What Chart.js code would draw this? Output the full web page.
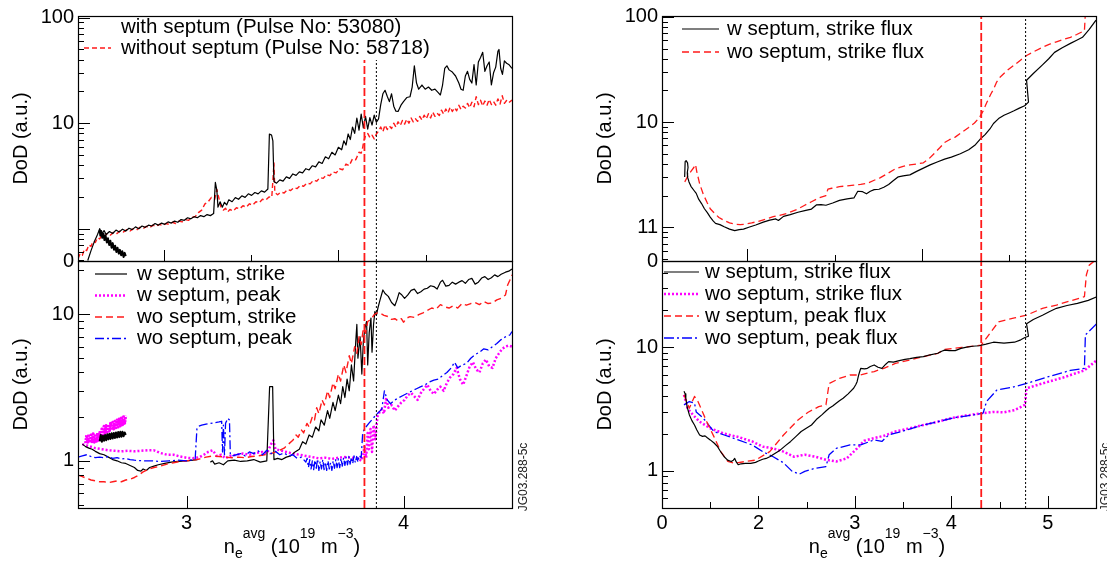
<!DOCTYPE html>
<html><head><meta charset="utf-8">
<script src="https://cdn.jsdelivr.net/npm/chart.js@4.4.0/dist/chart.umd.min.js"></script>
<style>
html,body{margin:0;padding:0;background:#fff;}
#wrap{position:relative;width:1107px;height:563px;overflow:hidden;background:#fff;}
#wrap canvas{position:absolute;left:0;top:0;}
</style></head><body>
<div id="wrap">
<canvas id="cTL" width="1107" height="563"></canvas>
<canvas id="cBL" width="1107" height="563"></canvas>
<canvas id="cTR" width="1107" height="563"></canvas>
<canvas id="cBR" width="1107" height="563"></canvas>
</div>
<script>
// ---------------- DATA ----------------
// Left column (x = n_e^avg, 10^19 m^-3)
const tlWith = [[2.545,0.5],[2.56,0.62],[2.575,0.75],[2.59,0.88],[2.6,1.0],[2.61,0.9],[2.62,0.96],[2.63,0.88],[2.645,0.94],[2.66,0.9],[2.675,0.97],[2.69,0.93],[2.705,0.99],[2.72,0.95],[2.735,1.01],[2.75,0.98],[2.765,1.04],[2.78,1.0],[2.795,1.06],[2.81,1.03],[2.825,1.08],[2.84,1.06],[2.855,1.12],[2.87,1.08],[2.885,1.13],[2.9,1.1],[2.915,1.16],[2.93,1.13],[2.945,1.18],[2.96,1.15],[2.975,1.22],[2.99,1.2],[3.005,1.27],[3.02,1.24],[3.035,1.3],[3.05,1.27],[3.065,1.33],[3.08,1.3],[3.095,1.36],[3.11,1.33],[3.125,1.39],[3.133,2.75],[3.14,2.3],[3.145,1.6],[3.155,1.8],[3.165,1.6],[3.175,1.78],[3.185,1.68],[3.195,1.88],[3.21,1.8],[3.225,1.97],[3.24,1.9],[3.255,2.05],[3.27,1.98],[3.285,2.14],[3.3,2.07],[3.315,2.2],[3.33,2.14],[3.345,2.28],[3.36,2.22],[3.375,2.38],[3.382,7.9],[3.392,7.7],[3.398,6.8],[3.403,2.8],[3.415,2.7],[3.43,2.9],[3.445,2.82],[3.46,3.1],[3.475,3.0],[3.49,3.3],[3.505,3.2],[3.52,3.45],[3.535,3.38],[3.55,3.7],[3.565,3.6],[3.58,3.95],[3.595,3.85],[3.61,4.3],[3.625,4.15],[3.64,4.8],[3.655,4.6],[3.67,5.3],[3.685,5.0],[3.7,5.9],[3.715,5.6],[3.725,6.8],[3.735,6.2],[3.745,7.9],[3.755,7.0],[3.765,9.2],[3.775,8.0],[3.785,11.2],[3.795,8.6],[3.805,12.2],[3.815,9.0],[3.825,11.6],[3.835,8.8],[3.845,11.3],[3.855,9.6],[3.865,11.9],[3.875,10.2],[3.885,11.0],[3.895,15.0],[3.905,19.0],[3.915,20.5],[3.925,18.0],[3.935,16.0],[3.945,19.0],[3.955,14.5],[3.965,13.0],[3.975,12.9],[3.99,15.0],[4.0,16.0],[4.015,17.5],[4.03,17.8],[4.04,22.0],[4.05,35.0],[4.06,24.0],[4.07,21.0],[4.085,23.0],[4.1,21.0],[4.115,22.0],[4.13,20.5],[4.145,21.0],[4.16,19.5],[4.17,18.5],[4.18,23.0],[4.19,33.0],[4.2,35.0],[4.21,32.0],[4.225,30.5],[4.24,28.0],[4.255,24.0],[4.265,21.0],[4.275,20.5],[4.285,28.0],[4.295,31.0],[4.305,26.0],[4.315,24.0],[4.325,36.0],[4.335,23.0],[4.345,38.0],[4.355,42.0],[4.365,47.0],[4.375,31.0],[4.385,35.0],[4.395,38.0],[4.405,23.0],[4.415,30.0],[4.425,34.0],[4.435,48.0],[4.44,50.0],[4.448,33.0],[4.456,29.0],[4.465,39.0],[4.475,37.0],[4.485,36.0],[4.5,33.0]];
const tlWithBlob = [[2.6,0.97],[2.603,0.86],[2.607,0.95],[2.612,0.82],[2.617,0.9],[2.622,0.78],[2.627,0.86],[2.633,0.74],[2.638,0.81],[2.644,0.7],[2.649,0.77],[2.655,0.66],[2.66,0.73],[2.666,0.63],[2.671,0.69],[2.677,0.6],[2.682,0.66],[2.688,0.58],[2.693,0.63],[2.699,0.56],[2.704,0.61],[2.71,0.54],[2.715,0.59],[2.72,0.55]];
const tlWithout = [[2.5,0.52],[2.51,0.58],[2.52,0.56],[2.53,0.64],[2.54,0.62],[2.55,0.7],[2.56,0.68],[2.57,0.76],[2.58,0.74],[2.59,0.82],[2.6,0.8],[2.61,0.87],[2.62,0.84],[2.635,0.9],[2.65,0.87],[2.665,0.93],[2.68,0.9],[2.695,0.96],[2.71,0.93],[2.725,0.98],[2.74,0.95],[2.755,1.0],[2.77,0.97],[2.785,1.03],[2.8,1.0],[2.815,1.05],[2.83,1.02],[2.845,1.08],[2.86,1.05],[2.875,1.1],[2.89,1.07],[2.905,1.12],[2.92,1.1],[2.935,1.15],[2.95,1.12],[2.965,1.18],[2.98,1.16],[2.995,1.22],[3.01,1.2],[3.025,1.28],[3.04,1.3],[3.055,1.42],[3.07,1.5],[3.085,1.72],[3.1,1.8],[3.115,1.98],[3.13,1.9],[3.14,2.35],[3.148,2.0],[3.158,1.62],[3.17,1.5],[3.18,1.56],[3.19,1.44],[3.2,1.52],[3.215,1.47],[3.23,1.58],[3.245,1.54],[3.26,1.65],[3.275,1.6],[3.29,1.72],[3.305,1.67],[3.32,1.8],[3.335,1.76],[3.35,1.9],[3.365,1.86],[3.38,2.0],[3.393,1.98],[3.4,3.3],[3.403,4.2],[3.407,2.2],[3.42,2.1],[3.435,2.22],[3.45,2.18],[3.465,2.35],[3.48,2.3],[3.495,2.45],[3.51,2.4],[3.525,2.58],[3.54,2.52],[3.555,2.7],[3.57,2.66],[3.585,2.88],[3.6,2.82],[3.615,3.05],[3.63,3.0],[3.645,3.25],[3.66,3.18],[3.675,3.45],[3.69,3.38],[3.705,3.7],[3.72,3.62],[3.735,4.1],[3.75,3.95],[3.765,4.6],[3.78,4.5],[3.795,5.3],[3.805,5.2],[3.812,5.9],[3.817,6.8],[3.825,7.6],[3.835,8.0],[3.845,7.3],[3.855,7.7],[3.865,7.1],[3.875,7.9],[3.885,8.4],[3.895,9.2],[3.905,8.3],[3.915,9.6],[3.925,8.7],[3.935,9.4],[3.945,8.9],[3.955,10.0],[3.965,9.2],[3.975,10.3],[3.985,9.5],[3.995,10.6],[4.005,9.8],[4.015,10.9],[4.025,10.0],[4.035,11.2],[4.045,10.3],[4.055,11.0],[4.065,10.4],[4.075,11.6],[4.085,10.7],[4.095,11.9],[4.105,11.0],[4.115,12.3],[4.125,11.2],[4.135,12.7],[4.145,11.6],[4.155,12.4],[4.165,11.8],[4.175,13.3],[4.185,12.2],[4.195,13.6],[4.205,12.5],[4.215,14.2],[4.225,12.9],[4.235,14.0],[4.245,13.1],[4.255,14.8],[4.265,13.5],[4.275,14.5],[4.285,13.9],[4.295,15.4],[4.305,14.0],[4.315,15.8],[4.325,14.3],[4.335,17.8],[4.345,15.0],[4.355,16.5],[4.365,14.6],[4.375,16.2],[4.385,14.8],[4.395,16.8],[4.405,15.0],[4.415,16.0],[4.425,14.8],[4.435,17.0],[4.445,15.2],[4.455,18.2],[4.465,15.4],[4.475,16.4],[4.485,15.6],[4.5,16.6]];

const blWStrike = [[2.52,1.3],[2.535,1.25],[2.55,1.22],[2.565,1.2],[2.58,1.16],[2.6,1.12],[2.62,1.1],[2.64,1.06],[2.66,1.02],[2.68,1.0],[2.7,0.97],[2.72,0.96],[2.74,0.93],[2.76,0.9],[2.775,0.86],[2.79,0.85],[2.8,0.88],[2.815,0.86],[2.83,0.9],[2.85,0.92],[2.87,0.94],[2.9,0.96],[2.93,0.98],[2.96,0.99],[3.0,1.0],[3.03,1.01],[3.05,1.02],null,[3.11,0.98],[3.12,1.0],[3.13,0.95],[3.15,0.97],[3.17,0.94],[3.19,1.0],[3.22,1.01],[3.25,0.99],[3.28,1.0],[3.31,1.02],[3.34,0.98],[3.37,1.0],[3.383,3.2],[3.397,3.2],[3.403,1.02],[3.42,1.04],[3.44,1.02],[3.46,1.06],[3.48,1.08],[3.5,1.15],[3.52,1.2],[3.535,1.35],[3.55,1.3],[3.565,1.5],[3.58,1.45],[3.595,1.7],[3.61,1.6],[3.62,1.9],[3.635,1.75],[3.65,2.2],[3.66,1.95],[3.675,2.5],[3.685,2.2],[3.7,2.8],[3.71,2.45],[3.72,3.2],[3.73,2.7],[3.74,3.6],[3.75,3.0],[3.76,4.5],[3.77,3.5],[3.78,6.5],[3.785,8.5],[3.79,5.0],[3.8,7.0],[3.808,3.9],[3.815,6.5],[3.822,8.0],[3.83,8.9],[3.835,4.5],[3.842,7.5],[3.85,9.4],[3.855,5.5],[3.862,8.5],[3.868,10.4],[3.875,9.8],[3.882,11.0],[3.892,12.5],[3.905,14.6],[3.915,13.8],[3.93,13.2],[3.945,12.0],[3.96,11.4],[3.97,12.5],[3.98,14.0],[3.99,13.6],[4.005,12.8],[4.02,13.5],[4.035,14.5],[4.05,14.8],[4.065,13.8],[4.08,14.2],[4.095,14.8],[4.11,15.0],[4.125,15.6],[4.14,15.4],[4.155,14.8],[4.17,16.5],[4.18,17.0],[4.195,15.5],[4.21,15.7],[4.225,16.5],[4.24,16.0],[4.255,16.5],[4.27,16.9],[4.285,16.2],[4.3,17.2],[4.315,17.5],[4.33,16.0],[4.345,16.5],[4.36,17.6],[4.375,18.0],[4.39,17.2],[4.405,17.7],[4.42,18.5],[4.435,18.0],[4.45,18.7],[4.47,19.3],[4.485,19.6],[4.5,20.3]];
const blWStrikeBlob = [[2.6,1.36],[2.605,1.5],[2.61,1.35],[2.615,1.48],[2.62,1.37],[2.625,1.5],[2.63,1.38],[2.635,1.52],[2.64,1.4],[2.645,1.53],[2.65,1.41],[2.655,1.54],[2.66,1.42],[2.665,1.55],[2.67,1.43],[2.675,1.56],[2.68,1.44],[2.685,1.57],[2.69,1.45],[2.695,1.58],[2.7,1.46],[2.705,1.58],[2.71,1.47],[2.715,1.56],[2.72,1.5]];
const blWPeak = [[2.52,1.3],[2.55,1.26],[2.58,1.22],[2.61,1.2],[2.64,1.18],[2.67,1.17],[2.7,1.16],[2.73,1.17],[2.76,1.16],[2.79,1.17],[2.82,1.18],[2.85,1.18],[2.88,1.13],[2.91,1.1],[2.94,1.1],[2.97,1.07],[3.0,1.05],[3.03,1.04],[3.06,1.06],[3.08,1.1],[3.1,1.15],[3.12,1.18],[3.14,1.08],[3.16,1.1],[3.18,1.04],[3.2,1.08],[3.23,1.1],[3.26,1.12],[3.29,1.1],[3.32,1.13],[3.35,1.15],[3.37,1.12],[3.39,1.3],[3.4,1.38],[3.41,1.2],[3.43,1.18],[3.46,1.15],[3.49,1.12],[3.52,1.1],[3.55,1.08],[3.58,1.06],[3.61,1.04],[3.64,1.05],[3.67,1.03],[3.7,1.05],[3.73,1.06],[3.76,1.05],[3.79,1.04],[3.805,1.0],[3.815,1.1],[3.82,1.25],[3.828,1.05],[3.835,1.55],[3.84,1.2],[3.848,1.65],[3.855,1.15],[3.862,1.75],[3.87,1.4],[3.88,2.0],[3.89,2.15],[3.9,2.25],[3.91,2.1],[3.92,2.7],[3.93,2.3],[3.945,2.4],[3.96,2.2],[3.975,2.35],[3.99,2.5],[4.005,2.6],[4.02,2.8],[4.035,2.9],[4.05,2.75],[4.065,2.6],[4.08,2.9],[4.095,3.1],[4.11,3.3],[4.125,3.0],[4.14,2.85],[4.155,3.05],[4.17,3.2],[4.185,3.0],[4.2,3.4],[4.215,3.7],[4.23,3.9],[4.245,4.3],[4.26,3.6],[4.275,3.3],[4.29,3.8],[4.305,4.4],[4.32,4.7],[4.335,4.2],[4.35,4.0],[4.365,4.6],[4.38,4.9],[4.395,4.4],[4.41,4.3],[4.425,5.0],[4.44,5.4],[4.455,5.8],[4.47,6.0],[4.485,6.1],[4.5,6.0]];
const blWPeakBlob = [[2.535,1.32],[2.54,1.5],[2.545,1.34],[2.55,1.52],[2.555,1.33],[2.56,1.5],[2.565,1.35],[2.57,1.53],[2.575,1.34],[2.58,1.52],[2.585,1.36],[2.59,1.55],[2.595,1.38],[2.6,1.56],[2.605,1.42],[2.61,1.65],[2.615,1.5],[2.62,1.72],[2.625,1.55],[2.63,1.74],[2.635,1.57],[2.64,1.77],[2.645,1.6],[2.65,1.8],[2.655,1.62],[2.66,1.83],[2.665,1.65],[2.67,1.86],[2.675,1.68],[2.68,1.9],[2.685,1.7],[2.69,1.93],[2.695,1.73],[2.7,1.96],[2.705,1.76],[2.71,2.0],[2.715,1.8],[2.72,2.03]];
const blWoStrike = [[2.5,0.8],[2.52,0.78],[2.54,0.76],[2.56,0.74],[2.58,0.73],[2.6,0.72],[2.62,0.72],[2.64,0.71],[2.66,0.72],[2.68,0.73],[2.7,0.72],[2.72,0.74],[2.74,0.75],[2.76,0.77],[2.78,0.8],[2.8,0.84],[2.82,0.87],[2.85,0.9],[2.88,0.92],[2.91,0.95],[2.94,0.97],[2.97,0.99],[3.0,1.0],[3.03,1.01],[3.06,1.03],[3.09,1.06],[3.12,1.08],[3.15,1.07],[3.18,1.06],[3.21,1.05],[3.24,1.06],[3.27,1.05],[3.3,1.07],[3.33,1.08],[3.36,1.1],[3.39,1.12],[3.41,1.15],[3.43,1.18],[3.45,1.22],[3.47,1.3],[3.49,1.38],[3.505,1.5],[3.515,1.45],[3.53,1.62],[3.54,1.55],[3.555,1.8],[3.565,1.7],[3.58,2.0],[3.59,1.9],[3.6,2.3],[3.61,2.1],[3.625,2.6],[3.635,2.4],[3.65,3.0],[3.66,2.7],[3.675,3.4],[3.685,3.1],[3.7,3.9],[3.71,3.5],[3.725,4.5],[3.735,4.0],[3.75,5.2],[3.76,4.6],[3.775,6.0],[3.785,5.4],[3.795,7.0],[3.805,6.2],[3.815,8.0],[3.825,7.4],[3.835,8.9],[3.85,9.2],[3.865,9.9],[3.88,10.2],[3.895,10.1],[3.91,9.8],[3.93,9.6],[3.945,9.2],[3.96,9.3],[3.975,9.0],[3.99,9.3],[4.0,8.8],[4.015,9.4],[4.03,9.6],[4.05,9.5],[4.07,9.9],[4.09,10.2],[4.11,10.6],[4.13,11.0],[4.15,10.8],[4.17,11.6],[4.19,11.2],[4.21,11.0],[4.23,11.4],[4.25,11.0],[4.27,11.8],[4.29,11.5],[4.31,11.8],[4.33,12.0],[4.35,11.6],[4.37,12.2],[4.39,11.8],[4.41,11.9],[4.43,12.5],[4.45,12.8],[4.47,13.5],[4.48,15.8],[4.49,17.0],[4.5,18.5]];
const blWoPeak = [[2.5,1.06],[2.52,1.08],[2.54,1.1],[2.56,1.07],[2.58,1.05],[2.6,1.06],[2.62,1.05],[2.64,1.07],[2.66,1.04],[2.68,1.05],[2.7,1.03],[2.72,1.04],[2.74,1.02],[2.76,1.01],[2.8,1.0],[2.84,1.0],[2.88,0.99],[2.92,1.0],[2.96,1.01],[3.0,1.0],[3.03,1.02],[3.04,1.03],[3.048,1.65],[3.055,1.72],[3.07,1.75],[3.09,1.78],[3.11,1.8],[3.13,1.82],[3.15,1.84],[3.162,1.86],[3.166,1.15],[3.17,1.75],[3.175,1.1],[3.18,1.8],[3.19,1.95],[3.198,1.9],[3.202,1.1],[3.21,1.08],[3.23,1.1],[3.25,1.12],[3.27,1.08],[3.29,1.15],[3.31,1.12],[3.33,1.17],[3.35,1.1],[3.37,1.18],[3.39,1.12],[3.41,1.16],[3.43,1.1],[3.45,1.13],[3.47,1.08],[3.49,1.1],[3.51,1.04],[3.53,1.06],[3.55,0.98],[3.556,1.04],[3.562,0.9],[3.568,1.02],[3.574,0.88],[3.58,1.0],[3.586,0.87],[3.592,1.01],[3.598,0.89],[3.604,1.03],[3.61,0.86],[3.616,0.99],[3.622,0.88],[3.628,1.02],[3.634,0.87],[3.64,0.98],[3.646,0.86],[3.652,1.0],[3.658,0.88],[3.664,0.97],[3.67,0.86],[3.676,1.0],[3.682,0.89],[3.688,1.02],[3.694,0.9],[3.7,1.03],[3.706,0.9],[3.712,1.04],[3.718,0.92],[3.724,1.05],[3.73,0.93],[3.736,1.06],[3.742,0.94],[3.748,1.07],[3.754,0.95],[3.76,1.06],[3.766,0.96],[3.772,1.08],[3.778,0.97],[3.784,1.07],[3.79,0.98],[3.796,1.09],[3.805,1.05],[3.812,1.55],[3.82,1.65],[3.84,1.8],[3.86,1.95],[3.88,2.1],[3.9,2.25],[3.912,3.0],[3.925,2.6],[3.94,2.45],[3.96,2.6],[3.98,2.7],[4.0,2.8],[4.02,2.9],[4.04,3.0],[4.06,3.1],[4.08,3.2],[4.1,3.3],[4.12,3.45],[4.14,3.55],[4.16,3.6],[4.18,3.8],[4.2,4.0],[4.22,4.3],[4.235,4.7],[4.25,4.3],[4.27,4.5],[4.29,4.6],[4.31,5.0],[4.33,5.3],[4.35,5.5],[4.37,5.8],[4.39,5.7],[4.41,6.0],[4.43,6.3],[4.45,6.7],[4.47,7.0],[4.49,7.2],[4.5,7.6]];

// Right column
const trWStrike = [[1.235,3.0],[1.24,4.2],[1.25,4.3],[1.265,4.1],[1.27,3.7],[1.262,3.3],[1.265,3.0],[1.28,2.7],[1.3,2.45],[1.33,2.25],[1.355,2.1],[1.38,1.85],[1.41,1.68],[1.44,1.5],[1.47,1.38],[1.5,1.25],[1.53,1.15],[1.555,1.09],[1.6,1.06],[1.645,1.01],[1.7,0.96],[1.754,0.93],[1.8,0.95],[1.845,0.96],[1.9,1.0],[1.972,1.05],[2.05,1.12],[2.117,1.17],[2.18,1.2],[2.207,1.16],[2.26,1.27],[2.33,1.32],[2.41,1.39],[2.48,1.44],[2.55,1.49],[2.6,1.63],[2.65,1.64],[2.7,1.62],[2.77,1.7],[2.84,1.8],[2.92,1.86],[2.99,1.9],[3.03,2.2],[3.08,2.18],[3.12,2.08],[3.16,2.2],[3.2,2.28],[3.25,2.3],[3.3,2.4],[3.35,2.55],[3.4,2.78],[3.45,3.02],[3.5,3.08],[3.57,3.15],[3.64,3.4],[3.71,3.65],[3.78,3.92],[3.86,4.2],[3.93,4.45],[4.0,4.65],[4.093,5.0],[4.18,5.45],[4.25,6.1],[4.3,6.9],[4.35,7.6],[4.4,8.6],[4.437,9.7],[4.49,10.8],[4.546,11.6],[4.6,12.2],[4.65,12.8],[4.7,13.5],[4.76,14.3],[4.8,15.5],[4.78,25.0],[4.85,29.0],[4.945,35.0],[5.01,40.0],[5.07,46.0],[5.15,51.0],[5.235,56.0],[5.3,60.0],[5.36,64.0],[5.43,76.0],[5.5,93.0]];
const trWoStrike = [[1.236,2.7],[1.27,3.1],[1.3,3.4],[1.33,3.7],[1.348,3.95],[1.36,3.4],[1.39,2.6],[1.428,2.06],[1.47,1.7],[1.5,1.5],[1.537,1.38],[1.59,1.24],[1.645,1.16],[1.7,1.1],[1.754,1.07],[1.81,1.06],[1.863,1.07],[1.93,1.1],[2.0,1.14],[2.08,1.2],[2.153,1.26],[2.22,1.3],[2.3,1.36],[2.4,1.48],[2.48,1.62],[2.55,1.75],[2.625,1.9],[2.7,2.0],[2.72,2.3],[2.76,2.35],[2.84,2.43],[2.92,2.48],[2.99,2.52],[3.06,2.56],[3.13,2.62],[3.2,2.8],[3.26,2.95],[3.34,3.25],[3.42,3.6],[3.5,3.8],[3.57,3.92],[3.64,4.0],[3.71,4.1],[3.77,4.5],[3.82,5.0],[3.88,5.7],[3.93,6.4],[3.98,6.8],[4.04,7.2],[4.11,8.0],[4.18,8.9],[4.24,9.8],[4.29,11.0],[4.33,12.8],[4.37,15.5],[4.41,18.5],[4.437,20.5],[4.47,24.0],[4.51,27.0],[4.58,31.0],[4.655,35.0],[4.72,39.0],[4.78,43.0],[4.86,47.0],[4.945,51.5],[5.02,55.0],[5.09,58.0],[5.16,61.0],[5.235,64.0],[5.3,68.0],[5.38,74.0],[5.385,90.0],[5.39,110.0]];

const brWStrike = [[1.228,4.4],[1.24,4.2],[1.247,3.87],[1.26,3.3],[1.283,2.85],[1.31,2.55],[1.337,2.35],[1.36,2.15],[1.39,1.95],[1.42,1.9],[1.446,1.92],[1.47,1.85],[1.5,1.78],[1.54,1.68],[1.573,1.58],[1.61,1.42],[1.645,1.3],[1.68,1.22],[1.718,1.19],[1.74,1.22],[1.754,1.26],[1.77,1.18],[1.79,1.12],[1.82,1.14],[1.863,1.15],[1.92,1.15],[1.97,1.17],[2.0,1.2],[2.044,1.24],[2.08,1.26],[2.117,1.3],[2.17,1.38],[2.225,1.47],[2.28,1.6],[2.334,1.73],[2.39,1.9],[2.443,2.08],[2.5,2.22],[2.55,2.35],[2.6,2.6],[2.66,2.85],[2.7,3.05],[2.733,3.21],[2.77,3.35],[2.806,3.53],[2.84,3.7],[2.878,3.87],[2.93,4.2],[2.987,4.66],[3.01,5.0],[3.023,5.27],[3.04,6.0],[3.06,6.76],[3.1,6.7],[3.13,6.76],[3.16,7.0],[3.2,7.2],[3.24,6.9],[3.28,6.76],[3.32,7.3],[3.35,7.66],[3.4,7.6],[3.46,7.8],[3.52,8.0],[3.57,8.1],[3.64,8.3],[3.71,8.4],[3.78,8.7],[3.86,8.95],[3.9,9.3],[3.93,9.5],[3.98,9.4],[4.04,9.4],[4.1,9.8],[4.147,10.0],[4.22,10.2],[4.29,10.3],[4.36,10.6],[4.437,11.0],[4.49,10.9],[4.546,10.8],[4.6,10.9],[4.655,11.0],[4.72,11.5],[4.763,12.0],[4.8,12.3],[4.78,15.5],[4.85,16.8],[4.945,18.2],[5.02,19.5],[5.09,20.7],[5.2,21.8],[5.307,22.7],[5.42,24.0],[5.51,25.7]];
const brWoStrike = [[1.228,4.12],[1.265,3.21],[1.319,2.85],[1.39,2.5],[1.5,2.21],[1.645,2.0],[1.79,1.88],[1.935,1.73],[2.044,1.57],[2.153,1.52],[2.26,1.43],[2.37,1.3],[2.48,1.35],[2.59,1.3],[2.7,1.23],[2.806,1.19],[2.915,1.26],[3.023,1.52],[3.096,1.75],[3.2,1.84],[3.31,1.93],[3.42,2.08],[3.57,2.21],[3.71,2.35],[3.86,2.5],[4.0,2.67],[4.147,2.8],[4.33,2.93],[4.437,3.0],[4.546,2.98],[4.655,3.1],[4.763,3.42],[4.78,4.66],[4.945,5.1],[5.16,5.7],[5.38,6.5],[5.51,7.9]];
const brWPeak = [[1.228,4.12],[1.283,3.21],[1.337,4.0],[1.373,3.64],[1.464,2.5],[1.537,1.9],[1.61,1.43],[1.682,1.19],[1.754,1.15],[1.863,1.19],[1.97,1.22],[2.117,1.43],[2.26,1.95],[2.41,2.58],[2.515,2.98],[2.625,3.31],[2.7,3.42],[2.733,5.1],[2.84,5.6],[2.95,5.97],[3.06,5.97],[3.2,6.37],[3.3,6.76],[3.42,7.4],[3.57,7.9],[3.71,8.4],[3.86,8.95],[3.93,9.6],[4.11,10.0],[4.31,10.4],[4.4,13.0],[4.49,16.1],[4.655,17.3],[4.78,18.2],[4.945,20.7],[5.09,22.0],[5.38,25.7],[5.4,38.5],[5.43,46.3],[5.51,52.0]];
const brWoPeak = [[1.228,3.42],[1.283,3.64],[1.337,3.53],[1.355,3.0],[1.428,2.67],[1.537,2.08],[1.645,1.95],[1.79,1.78],[1.935,1.62],[2.044,1.43],[2.153,1.3],[2.26,1.16],[2.35,0.99],[2.425,0.94],[2.48,0.99],[2.59,1.05],[2.7,1.08],[2.733,1.35],[2.806,1.52],[2.95,1.62],[3.06,1.62],[3.2,1.78],[3.28,1.73],[3.35,1.95],[3.5,2.1],[3.68,2.32],[3.86,2.5],[4.04,2.7],[4.22,2.83],[4.33,2.93],[4.365,3.64],[4.47,4.5],[4.655,4.8],[4.78,5.1],[5.01,5.8],[5.235,6.5],[5.38,6.76],[5.39,12.6],[5.51,15.6]];

// Vertical reference densities
const leftRefLines = [3.82, 3.875];   // [red dashed, black dotted]
const rightRefLines = [4.31, 4.77];

// Axis ranges
const leftXRange = [2.5, 4.5];
const rightXRange = [1, 5.5];
const tlYRange = [0.494, 103.7];
const blYRange = [0.477, 23];
const trYRange = [0.478, 102];
const brYRange = [0.5, 50];

// Tick labels
const tlYTicks = [0.494, 1, 10, 100];  const tlYLabels = ['0', '', '10', '100'];
const trYTicks = [0.478, 1, 10, 100];  const trYLabels = ['0', '11', '10', '100'];
const blYTicks = [1, 10];              const blYLabels = ['1', '10'];
const brYTicks = [1, 10];              const brYLabels = ['1', '10'];
const blXTicks = [3, 4];               const blXLabels = ['3', '4'];
const brXTicks = [1, 2, 3, 4, 5];      const brXLabels = ['0', '2', '3', '4', '5'];
const tlXMarks = [[2.896, 1], [3.297, 0], [3.698, 1], [4.104, 0]];
const trXMarks = [[1.881, 1], [2.794, 0], [3.696, 1], [4.598, 0]];
const blXMarks = [[3, 1], [4, 1]];
const brXMarks = [[1.5, 0], [2, 1], [2.5, 0], [3, 1], [3.5, 0], [4, 1], [4.5, 0], [5, 1]];

// ---------------- RENDERING ----------------
const FONT = '"Liberation Sans", Arial, Helvetica, sans-serif';
const RED = '#ff1a1a', MAG = '#ff00ff', BLUE = '#0000ff', BLK = '#000000';

const pts = a => a.map(p => p === null ? {x: null, y: null} : {x: p[0], y: p[1]});
function ds(data, color, width, dash) {
  return {data: pts(data), borderColor: color, backgroundColor: color, borderWidth: width,
    borderDash: dash || [], showLine: true, pointRadius: 0, pointHoverRadius: 0, fill: false,
    tension: 0, clip: 0, borderJoinStyle: 'round', spanGaps: false};
}
function vline(x, yr, color, width, dash) { return ds([[x, yr[0]], [x, yr[1]]], color, width, dash); }

function labelFn(vals, labels) {
  return v => { const i = vals.findIndex(t => Math.abs(t - v) <= 1e-6 * Math.max(1, t)); return i >= 0 ? labels[i] : ''; };
}

function drawXTitle(ctx, cx, base) {
  const parts = [['n', 20, 0], ['e', 14, 5], ['avg', 14, -15], [' (10', 20, 0], ['19', 14, -15], [' m', 20, 0], ['\u22123', 14, -15], [')', 20, 0]];
  let total = 0;
  parts.forEach(p => { ctx.font = p[1] + 'px ' + FONT; p.push(ctx.measureText(p[0]).width); total += p[3]; });
  let x = cx - total / 2;
  ctx.fillStyle = '#000'; ctx.textAlign = 'left'; ctx.textBaseline = 'alphabetic';
  parts.forEach(p => { ctx.font = p[1] + 'px ' + FONT; ctx.fillText(p[0], x, base + p[2]); x += p[3]; });
}

function panelPlugin(o) {
  return {
    id: 'panel' + o.name,
    afterDraw(chart) {
      const ctx = chart.ctx, a = chart.chartArea, xs = chart.scales.x, ys = chart.scales.y;
      ctx.save();
      const L = o.legend;
      if (L.box) { ctx.fillStyle = '#fff'; ctx.fillRect(L.box[0], L.box[1], L.box[2], L.box[3]); }
      ctx.strokeStyle = '#000'; ctx.lineWidth = 1; ctx.setLineDash([]);
      ctx.beginPath();
      const lo = Math.floor(Math.log10(ys.min)), hi = Math.ceil(Math.log10(ys.max));
      for (let e = lo; e <= hi; e++) for (let m = 1; m <= 9; m++) {
        const v = m * Math.pow(10, e);
        if (v <= ys.min * 1.001 || v >= ys.max) continue;
        const y = Math.round(ys.getPixelForValue(v)) + 0.5;
        ctx.moveTo(a.left, y); ctx.lineTo(a.left + (m === 1 ? 12 : 6), y);
      }
      o.xMarks.forEach(([v, major]) => {
        const x = Math.round(xs.getPixelForValue(v)) + 0.5;
        ctx.moveTo(x, a.bottom); ctx.lineTo(x, a.bottom - (major ? o.xMajorLen : 6));
      });
      ctx.stroke();
      ctx.lineWidth = 1.2;
      ctx.strokeRect(a.left + 0.5, a.top + 0.5, a.right - a.left, a.bottom - a.top);
      // legend
      ctx.font = '20.5px ' + FONT; ctx.textBaseline = 'middle'; ctx.textAlign = 'left';
      L.rows.forEach((r, i) => {
        const y = L.y0 + i * L.dy;
        if (r.sample) {
          ctx.beginPath(); ctx.strokeStyle = r.d.borderColor; ctx.lineWidth = r.d.borderWidth;
          ctx.setLineDash(r.d.borderDash); ctx.moveTo(L.sx0, y); ctx.lineTo(L.sx1, y); ctx.stroke();
          ctx.setLineDash([]);
        }
        ctx.fillStyle = '#000'; ctx.fillText(r.text, L.tx, y);
      });
      if (o.xTitle) drawXTitle(ctx, o.xTitle[0], o.xTitle[1]);
      if (o.side) {
        ctx.save(); ctx.translate(o.side[0], o.side[1]); ctx.rotate(-Math.PI / 2);
        ctx.font = '12px ' + FONT; ctx.fillStyle = '#222'; ctx.textAlign = 'center'; ctx.textBaseline = 'middle';
        ctx.fillText('JG03.288-5c', 0, 0); ctx.restore();
      }
      ctx.restore();
    }
  };
}

function build(o) {
  const yScale = {
    type: 'logarithmic', position: 'left', min: o.yr[0], max: o.yr[1],
    grid: {display: false, drawTicks: false}, border: {display: false},
    ticks: {autoSkip: false, padding: 4, color: '#000', font: {family: FONT, size: 20}, callback: labelFn(o.yTicks, o.yLabels)},
    afterBuildTicks: s => { s.ticks = o.yTicks.map(v => ({value: v})); },
    afterFit: s => { s.width = o.yWidth; },
    title: {display: true, text: 'DoD (a.u.)', color: '#000', font: {family: FONT, size: 20}, padding: {top: o.titlePad, bottom: 0}}
  };
  const xScale = {
    type: 'linear', position: 'bottom', min: o.xr[0], max: o.xr[1], display: !!o.xTicks,
    grid: {display: false, drawTicks: false}, border: {display: false},
    ticks: {autoSkip: false, padding: 3, maxRotation: 0, color: '#000', font: {family: FONT, size: 20},
      callback: o.xTicks ? labelFn(o.xTicks, o.xLabels) : () => ''},
    afterBuildTicks: s => { if (o.xTicks) s.ticks = o.xTicks.map(v => ({value: v})); },
    afterFit: s => { if (o.xTicks) s.height = 55; }
  };
  return new Chart(document.getElementById(o.id), {
    type: 'scatter',
    data: {datasets: o.datasets},
    options: {
      responsive: false, animation: false, devicePixelRatio: 1, events: [],
      layout: {padding: o.pad},
      plugins: {legend: {display: false}, tooltip: {enabled: false}},
      scales: {x: xScale, y: yScale}
    },
    plugins: [panelPlugin(o)]
  });
}

// Top-left
const dTlWith = ds(tlWith, BLK, 1.2);
const dTlWithout = ds(tlWithout, RED, 1.4, [5, 3]);
build({
  id: 'cTL', name: 'TL', pad: {left: 0, top: 13, right: 595, bottom: 302}, yWidth: 78, titlePad: 9,
  xr: leftXRange, yr: tlYRange, yTicks: tlYTicks, yLabels: tlYLabels, xMarks: tlXMarks, xMajorLen: 11,
  datasets: [vline(leftRefLines[0], tlYRange, RED, 1.8, [8, 3]), vline(leftRefLines[1], tlYRange, BLK, 1, [2, 2]),
    dTlWith, ds(tlWithBlob, BLK, 2), dTlWithout],
  legend: {y0: 27, dy: 21, sx0: 84, sx1: 111, tx: 121, box: [80, 15, 350, 45], rows: [
    {d: dTlWith, text: 'with septum (Pulse No: 53080)', sample: false},
    {d: dTlWithout, text: 'without septum (Pulse No: 58718)', sample: true}]}
});

// Bottom-left
const dBlWS = ds(blWStrike, BLK, 1.2);
const dBlWP = ds(blWPeak, MAG, 2.5, [2, 2]);
const dBlWoS = ds(blWoStrike, RED, 1.4, [7, 4]);
const dBlWoP = ds(blWoPeak, BLUE, 1.3, [9, 3, 2, 3]);
build({
  id: 'cBL', name: 'BL', pad: {left: 0, top: 261, right: 595, bottom: 0}, yWidth: 78, titlePad: 9,
  xr: leftXRange, yr: blYRange, yTicks: blYTicks, yLabels: blYLabels, xTicks: blXTicks, xLabels: blXLabels,
  xMarks: blXMarks, xMajorLen: 12, xTitle: [292, 553], side: [524, 477],
  datasets: [vline(leftRefLines[0], blYRange, RED, 1.8, [8, 3]), vline(leftRefLines[1], blYRange, BLK, 1, [2, 2]),
    dBlWoP, dBlWoS, dBlWS, ds(blWStrikeBlob, BLK, 2), dBlWP, ds(blWPeakBlob, MAG, 3, [2, 1])],
  legend: {y0: 274, dy: 21.5, sx0: 95, sx1: 127, tx: 137, rows: [
    {d: dBlWS, text: 'w septum, strike', sample: true},
    {d: dBlWP, text: 'w septum, peak', sample: true},
    {d: dBlWoS, text: 'wo septum, strike', sample: true},
    {d: dBlWoP, text: 'wo septum, peak', sample: true}]}
});

// Top-right
const dTrWS = ds(trWStrike, BLK, 1.2);
const dTrWoS = ds(trWoStrike, RED, 1.3, [7, 4]);
build({
  id: 'cTR', name: 'TR', pad: {left: 580, top: 12, right: 11, bottom: 302}, yWidth: 82, titlePad: 13,
  xr: rightXRange, yr: trYRange, yTicks: trYTicks, yLabels: trYLabels, xMarks: trXMarks, xMajorLen: 12,
  datasets: [vline(rightRefLines[0], trYRange, RED, 1.8, [8, 3]), vline(rightRefLines[1], trYRange, BLK, 1, [2, 2]),
    dTrWS, dTrWoS],
  legend: {y0: 29, dy: 23, sx0: 682, sx1: 719, tx: 727, rows: [
    {d: dTrWS, text: 'w septum, strike flux', sample: true},
    {d: dTrWoS, text: 'wo septum, strike flux', sample: true}]}
});

// Bottom-right
const dBrWS = ds(brWStrike, BLK, 1.2);
const dBrWoS = ds(brWoStrike, MAG, 2.5, [2, 2]);
const dBrWP = ds(brWPeak, RED, 1.3, [7, 4]);
const dBrWoP = ds(brWoPeak, BLUE, 1.3, [10, 3, 2, 3]);
build({
  id: 'cBR', name: 'BR', pad: {left: 580, top: 261, right: 11, bottom: 0}, yWidth: 82, titlePad: 13,
  xr: rightXRange, yr: brYRange, yTicks: brYTicks, yLabels: brYLabels, xTicks: brXTicks, xLabels: brXLabels,
  xMarks: brXMarks, xMajorLen: 12, xTitle: [877, 553], side: [1106, 477],
  datasets: [vline(rightRefLines[0], brYRange, RED, 1.8, [8, 3]), vline(rightRefLines[1], brYRange, BLK, 1, [2, 2]),
    dBrWS, dBrWP, dBrWoP, dBrWoS],
  legend: {y0: 272, dy: 22, sx0: 664, sx1: 699, tx: 705, rows: [
    {d: dBrWS, text: 'w septum, strike flux', sample: true},
    {d: dBrWoS, text: 'wo septum, strike flux', sample: true},
    {d: dBrWP, text: 'w septum, peak flux', sample: true},
    {d: dBrWoP, text: 'wo septum, peak flux', sample: true}]}
});
</script>
</body></html>
